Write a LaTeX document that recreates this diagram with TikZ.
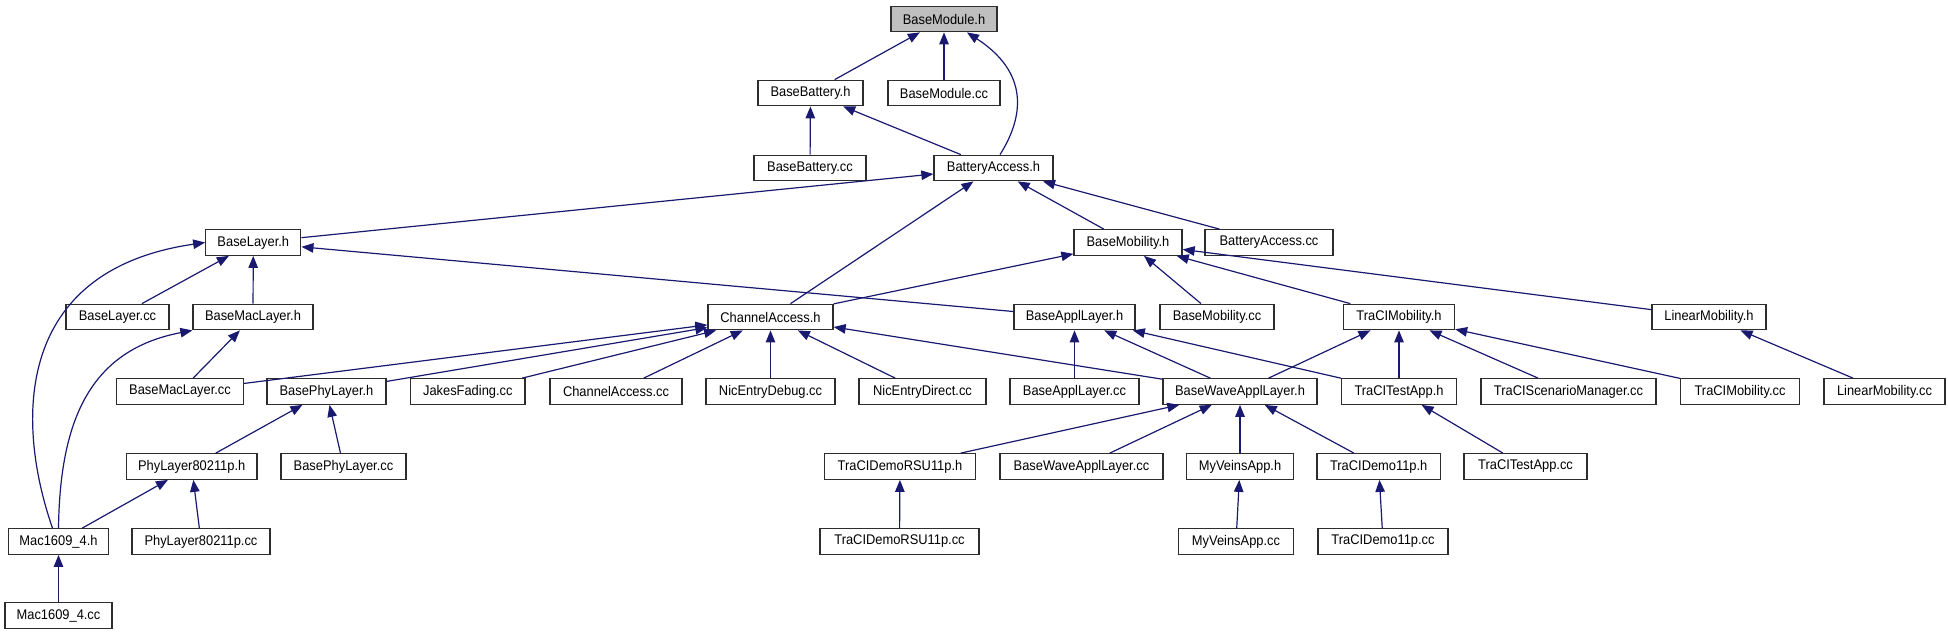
\documentclass[tikz,border=0pt]{standalone}
\usepackage{fontspec}
\setmainfont{Liberation Sans}[FakeStretch=0.92]
\usetikzlibrary{arrows.meta}
\definecolor{edgeblue}{RGB}{25,25,112}
\definecolor{rootgray}{RGB}{191,191,191}
\definecolor{boxline}{RGB}{45,45,45}

\begin{document}
\begin{tikzpicture}[x=1pt,y=-1pt,
    file/.style={draw=boxline, line width=1.3pt, fill=white, minimum height=25.5pt,
      inner sep=0pt, font=\fontsize{14}{16}\selectfont},
    root/.style={file, fill=rootgray},
    dep/.style={edgeblue, line width=1.2pt, -{Triangle[length=12pt,width=9.5pt]}}]
  \useasboundingbox (0,0) rectangle (1948,635);
  % Rank 0-2
  \node[root, minimum width=106pt] (bmod) at (944,19) {BaseModule.h};
  \node[file, minimum width=105pt] (bbat) at (810.5,93) {BaseBattery.h};
  \node[file, minimum width=112pt] (bmodcc) at (944,93) {BaseModule.cc};
  \node[file, minimum width=112pt] (bbatcc) at (810,168) {BaseBattery.cc};
  \node[file, minimum width=119pt] (batacc) at (993.5,168) {BatteryAccess.h};
  % Rank 3
  \node[file, minimum width=95pt] (blay) at (253.3,242.5) {BaseLayer.h};
  \node[file, minimum width=108pt] (bmob) at (1128,242.5) {BaseMobility.h};
  \node[file, minimum width=128pt] (bataccc) at (1269,242.5) {BatteryAccess.cc};
  % Rank 4
  \node[file, minimum width=103pt] (blaycc) at (117.5,317) {BaseLayer.cc};
  \node[file, minimum width=120pt] (bmac) at (253,317) {BaseMacLayer.h};
  \node[file, minimum width=125pt] (chacc) at (770.5,317) {ChannelAccess.h};
  \node[file, minimum width=121pt] (bappl) at (1074.5,317) {BaseApplLayer.h};
  \node[file, minimum width=114pt] (bmobcc) at (1217,317) {BaseMobility.cc};
  \node[file, minimum width=111pt] (tmob) at (1399,317) {TraCIMobility.h};
  \node[file, minimum width=114pt] (lmob) at (1709,317) {LinearMobility.h};
  % Rank 5
  \node[file, minimum width=127pt] (bmaccc) at (180,391.5) {BaseMacLayer.cc};
  \node[file, minimum width=119pt] (bphy) at (326.5,391.5) {BasePhyLayer.h};
  \node[file, minimum width=114.5pt] (jakes) at (467.8,391.5) {JakesFading.cc};
  \node[file, minimum width=132pt] (chacccc) at (616,391.5) {ChannelAccess.cc};
  \node[file, minimum width=129pt] (nicdbg) at (770.5,391.5) {NicEntryDebug.cc};
  \node[file, minimum width=127pt] (nicdir) at (922.5,391.5) {NicEntryDirect.cc};
  \node[file, minimum width=129pt] (bapplcc) at (1074.5,391.5) {BaseApplLayer.cc};
  \node[file, minimum width=154pt] (bwave) at (1240,391.5) {BaseWaveApplLayer.h};
  \node[file, minimum width=115pt] (ttest) at (1399,391.5) {TraCITestApp.h};
  \node[file, minimum width=175pt] (tscen) at (1568.5,391.5) {TraCIScenarioManager.cc};
  \node[file, minimum width=119pt] (tmobcc) at (1740,391.5) {TraCIMobility.cc};
  \node[file, minimum width=121pt] (lmobcc) at (1884.5,391.5) {LinearMobility.cc};
  % Rank 6
  \node[file, minimum width=130.5pt] (phy) at (191.7,466.5) {PhyLayer80211p.h};
  \node[file, minimum width=125pt] (bphycc) at (343.5,466.5) {BasePhyLayer.cc};
  \node[file, minimum width=150.5pt] (rsu) at (900,466.5) {TraCIDemoRSU11p.h};
  \node[file, minimum width=163pt] (bwavecc) at (1081.5,466.5) {BaseWaveApplLayer.cc};
  \node[file, minimum width=107pt] (myveins) at (1240,466.5) {MyVeinsApp.h};
  \node[file, minimum width=123.5pt] (demo) at (1378.7,466.5) {TraCIDemo11p.h};
  \node[file, minimum width=123pt] (ttestcc) at (1525.5,466.5) {TraCITestApp.cc};
  % Rank 7-8
  \node[file, minimum width=100pt] (mac) at (58.5,541.5) {Mac1609\_4.h};
  \node[file, minimum width=138pt] (phycc) at (201,541.5) {PhyLayer80211p.cc};
  \node[file, minimum width=159pt] (rsucc) at (899.5,541.5) {TraCIDemoRSU11p.cc};
  \node[file, minimum width=115pt] (myveinscc) at (1236,541.5) {MyVeinsApp.cc};
  \node[file, minimum width=130pt] (democc) at (1383,541.5) {TraCIDemo11p.cc};
  \node[file, minimum width=107pt] (maccc) at (58.5,615.5) {Mac1609\_4.cc};

  % Dependencies (arrow points to the included file)
  \draw[dep] (bbat) -- (bmod);
  \draw[dep] (bmodcc) -- (bmod);
  \draw[dep] ([xshift=6.5pt]batacc.north) .. controls (1025,115) and (1028,72) .. ([xshift=23pt]bmod.south);
  \draw[dep] (bbatcc) -- (bbat);
  \draw[dep] (batacc) -- (bbat);
  \draw[dep] (blay) -- (batacc);
  \draw[dep] (chacc) -- (batacc);
  \draw[dep] (bmob) -- (batacc);
  \draw[dep] (bataccc) -- (batacc);
  \draw[dep] (blaycc) -- (blay);
  \draw[dep] (bmac) -- (blay);
  \draw[dep] ([xshift=-6pt]mac.north) .. controls (15,420) and (15,270) .. (blay.west);
  \draw[dep] (bappl) -- (blay);
  \draw[dep] (chacc) -- (bmob);
  \draw[dep] (bmobcc) -- (bmob);
  \draw[dep] (tmob) -- (bmob);
  \draw[dep] (lmob) -- (bmob);
  \draw[dep] (bmaccc) -- (bmac);
  \draw[dep] (mac.north) .. controls (60,420) and (90,350) .. (bmac.south west);
  \draw[dep] (bmaccc) -- (chacc);
  \draw[dep] (bphy) -- (chacc);
  \draw[dep] (jakes) -- (chacc);
  \draw[dep] (chacccc) -- (chacc);
  \draw[dep] (nicdbg) -- (chacc);
  \draw[dep] (nicdir) -- (chacc);
  \draw[dep] (bwave) -- (chacc);
  \draw[dep] (bapplcc) -- (bappl);
  \draw[dep] (bwave) -- (bappl);
  \draw[dep] (ttest) -- (bappl);
  \draw[dep] (bwave) -- (tmob);
  \draw[dep] (ttest) -- (tmob);
  \draw[dep] (tscen) -- (tmob);
  \draw[dep] (tmobcc) -- (tmob);
  \draw[dep] (lmobcc) -- (lmob);
  \draw[dep] (phy) -- (bphy);
  \draw[dep] (bphycc) -- (bphy);
  \draw[dep] (mac) -- (phy);
  \draw[dep] (phycc) -- (phy);
  \draw[dep] (maccc) -- (mac);
  \draw[dep] (rsu) -- (bwave);
  \draw[dep] (bwavecc) -- (bwave);
  \draw[dep] (myveins) -- (bwave);
  \draw[dep] (demo) -- (bwave);
  \draw[dep] (ttestcc) -- (ttest);
  \draw[dep] (rsucc) -- (rsu);
  \draw[dep] (myveinscc) -- (myveins);
  \draw[dep] (democc) -- (demo);
\end{tikzpicture}
\end{document}
